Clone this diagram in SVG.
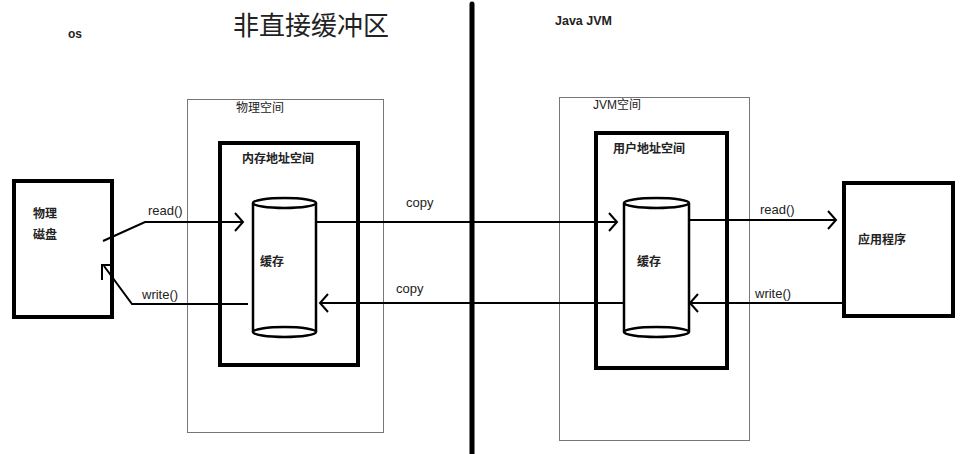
<svg xmlns="http://www.w3.org/2000/svg" width="970" height="454" viewBox="0 0 970 454">
<style>
text{font-family:"Liberation Sans","Noto Sans CJK SC",sans-serif;fill:#222}
.lbl{font-size:12px;font-weight:bold}
.ttl{font-size:12px}
.arr{font-size:13px}
.thin{fill:none;stroke:#777;stroke-width:1}
.thick{fill:none;stroke:#000;stroke-width:4}
.cyl{fill:none;stroke:#000;stroke-width:2.5}
.ln{fill:none;stroke:#000;stroke-width:2}
</style>
<rect width="970" height="454" fill="#fff"/>
<text x="68" y="38" class="lbl" style="font-size:12px">os</text>
<text x="233" y="35" style="font-size:26px">非直接缓冲区</text>
<text x="555" y="25" class="lbl" style="font-size:12.5px">Java JVM</text>
<line x1="472" y1="4" x2="472" y2="454" stroke="#000" stroke-width="5" stroke-linecap="round"/>
<g id="disk">
<rect x="14" y="181" width="98" height="136" class="thick"/>
<text x="33" y="218" class="lbl">物理</text>
<text x="33" y="239" class="lbl">磁盘</text>
</g>
<g id="os-phys">
<rect x="187.5" y="99.5" width="196" height="333" class="thin"/>
<text x="236" y="112" class="ttl">物理空间</text>
</g>
<g id="os-mem">
<rect x="220" y="143" width="138" height="222" class="thick"/>
<text x="242" y="163" class="lbl">内存地址空间</text>
</g>
<g id="os-cache">
<path d="M253 203 V332 M316 203 V332" class="cyl"/>
<ellipse cx="284.5" cy="203" rx="31.5" ry="5" class="cyl"/>
<ellipse cx="284.5" cy="332" rx="31.5" ry="5" class="cyl"/>
<text x="260" y="266" class="lbl">缓存</text>
</g>
<g id="jvm-space">
<rect x="559.5" y="97.5" width="190" height="343" class="thin"/>
<text x="593" y="109" class="ttl">JVM空间</text>
</g>
<g id="jvm-user">
<rect x="596" y="133" width="131" height="235" class="thick"/>
<text x="613" y="153" class="lbl">用户地址空间</text>
</g>
<g id="jvm-cache">
<path d="M624 203 V332 M689 203 V332" class="cyl"/>
<ellipse cx="656.5" cy="203" rx="32.5" ry="5" class="cyl"/>
<ellipse cx="656.5" cy="332" rx="32.5" ry="5" class="cyl"/>
<text x="637" y="266" class="lbl">缓存</text>
</g>
<g id="app">
<rect x="844" y="183" width="109" height="133" class="thick"/>
<text x="858" y="244" class="lbl">应用程序</text>
</g>
<g id="connectors">
<path d="M103 241 L145 222 H242" class="ln"/>
<path d="M235 213 L243 222 L235 231" class="ln"/>
<text x="148" y="215" class="arr">read()</text>
<path d="M248 304 H132 L104 266" class="ln"/>
<path d="M102 280 V265 H111" class="ln"/>
<text x="142" y="299" class="arr">write()</text>
<path d="M316 222 H617" class="ln"/>
<path d="M609 213 L617 222 L609 231" class="ln"/>
<text x="406" y="207" class="arr">copy</text>
<path d="M624 303 H320" class="ln"/>
<path d="M328 294 L320 303 L328 312" class="ln"/>
<text x="396" y="293" class="arr">copy</text>
<path d="M689 220 H836" class="ln"/>
<path d="M828 211 L836 220 L828 229" class="ln"/>
<text x="760" y="214" class="arr">read()</text>
<path d="M844 303 H690" class="ln"/>
<path d="M698 294 L690 303 L698 312" class="ln"/>
<text x="755" y="298" class="arr">write()</text>
</g>
</svg>
